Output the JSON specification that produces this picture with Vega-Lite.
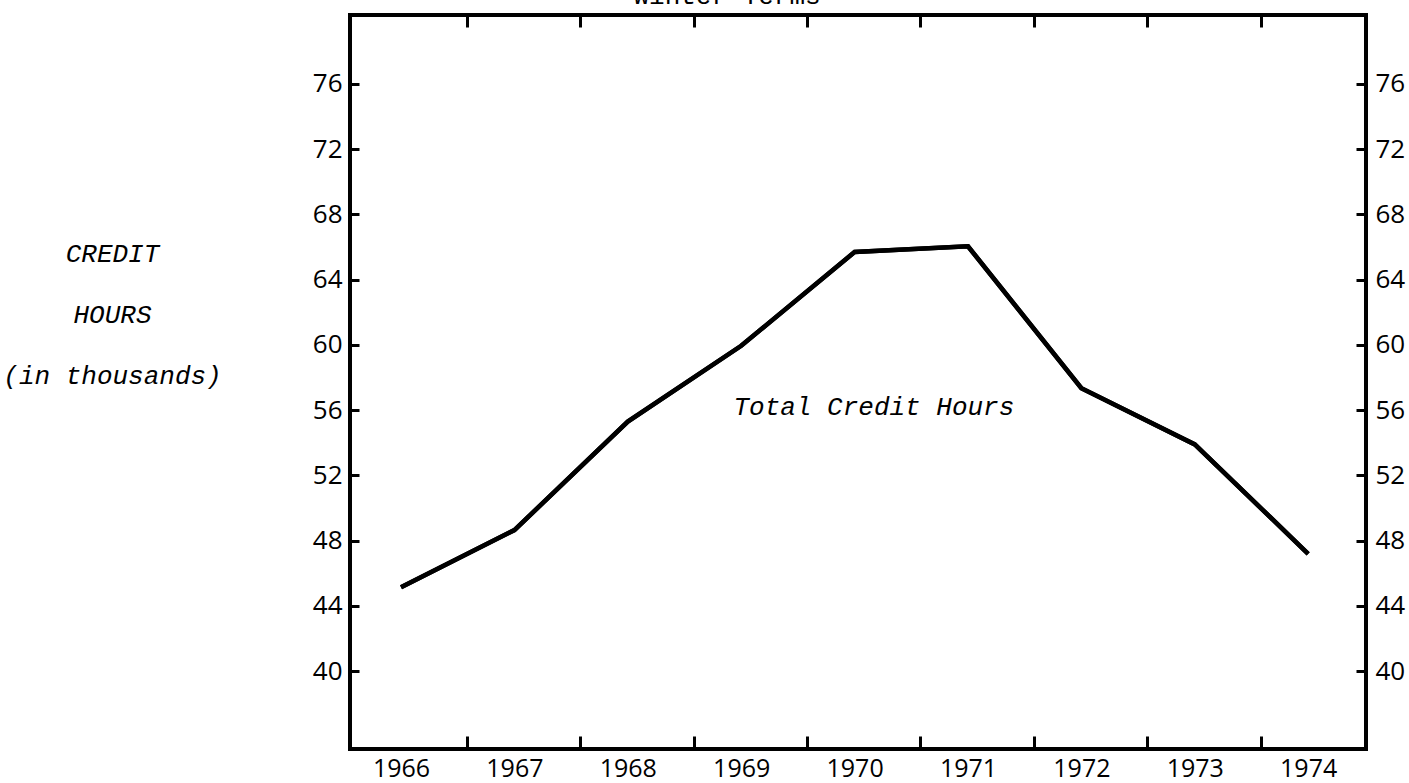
{
  "$schema": "https://vega.github.io/schema/vega-lite/v6.json",
  "width": 1016,
  "height": 734,
  "autosize": "none",
  "padding": {"left": 350, "top": 15, "right": 43, "bottom": 34},
  "background": "white",
  "config": {
    "view": {"stroke": "black", "strokeWidth": 4},
    "axis": {
      "domain": false,
      "grid": false,
      "labelFont": "Open Sans",
      "labelFontSize": 26,
      "labelColor": "black",
      "tickColor": "black",
      "tickWidth": 3
    }
  },
  "datasets": {
    "hours": [
      {"year": 1966, "value": 45.15},
      {"year": 1967, "value": 48.65},
      {"year": 1968, "value": 55.3},
      {"year": 1969, "value": 59.95},
      {"year": 1970, "value": 65.7},
      {"year": 1971, "value": 66.05},
      {"year": 1972, "value": 57.35},
      {"year": 1973, "value": 53.9},
      {"year": 1974, "value": 47.2}
    ],
    "note": [
      {"year": 1970.17, "value": 56.2, "label": "Total Credit Hours"}
    ],
    "heading": [
      {"year": 1968.875, "value": 80.9, "label": "Winter Terms"}
    ]
  },
  "resolve": {"axis": {"x": "independent", "y": "independent"}},
  "layer": [
    {
      "data": {"name": "hours"},
      "mark": {"type": "line", "color": "black", "strokeWidth": 4.5, "strokeJoin": "miter"},
      "encoding": {
        "x": {
          "field": "year", "type": "quantitative",
          "scale": {"domain": [1965.55, 1974.51], "nice": false, "zero": false},
          "axis": {
            "orient": "bottom",
            "values": [1966, 1967, 1968, 1969, 1970, 1971, 1972, 1973, 1974],
            "format": "d",
            "ticks": false,
            "labelPadding": 7,
            "labelFontSize": 25,
            "labelFlush": false,
            "labelOverlap": false,
            "title": null
          }
        },
        "y": {
          "field": "value", "type": "quantitative",
          "scale": {"domain": [35.23, 80.23], "nice": false, "zero": false},
          "axis": {
            "orient": "left",
            "values": [40, 44, 48, 52, 56, 60, 64, 68, 72, 76],
            "tickSize": -9,
            "labelPadding": 17,
            "labelFlush": false,
            "labelOverlap": false,
            "title": ["CREDIT", "HOURS", "(in thousands)"],
            "titleFont": "Liberation Mono",
            "titleFontStyle": "italic",
            "titleFontWeight": "normal",
            "titleFontSize": 26,
            "titleColor": "black",
            "titleLineHeight": 61,
            "titleAngle": 0,
            "titleAlign": "center",
            "titleBaseline": "middle",
            "titleX": -238,
            "titleY": 238
          }
        }
      }
    },
    {
      "data": {"name": "note"},
      "mark": {"type": "text", "font": "Liberation Mono", "fontStyle": "italic", "fontSize": 26, "color": "black", "align": "center", "baseline": "middle"},
      "encoding": {
        "x": {
          "field": "year", "type": "quantitative",
          "scale": {"domain": [1965.55, 1974.51], "nice": false, "zero": false},
          "axis": {
            "orient": "bottom",
            "values": [1966.58, 1967.58, 1968.58, 1969.58, 1970.58, 1971.58, 1972.58, 1973.58],
            "labels": false,
            "tickSize": -13,
            "title": null
          }
        },
        "y": {
          "field": "value", "type": "quantitative",
          "scale": {"domain": [35.23, 80.23], "nice": false, "zero": false},
          "axis": {
            "orient": "right",
            "values": [40, 44, 48, 52, 56, 60, 64, 68, 72, 76],
            "tickSize": -10,
            "labelPadding": 19,
            "labelFlush": false,
            "labelOverlap": false,
            "title": null
          }
        },
        "text": {"field": "label", "type": "nominal"}
      }
    },
    {
      "data": {"name": "hours"},
      "mark": {"type": "line", "color": "black", "strokeWidth": 4.5, "strokeJoin": "miter"},
      "encoding": {
        "x": {
          "field": "year", "type": "quantitative",
          "scale": {"domain": [1965.55, 1974.51], "nice": false, "zero": false},
          "axis": {
            "orient": "top",
            "values": [1966.58, 1967.58, 1968.58, 1969.58, 1970.58, 1971.58, 1972.58, 1973.58],
            "labels": false,
            "tickSize": -12,
            "title": null
          }
        },
        "y": {
          "field": "value", "type": "quantitative",
          "scale": {"domain": [35.23, 80.23], "nice": false, "zero": false},
          "axis": null
        }
      }
    },
    {
      "data": {"name": "heading"},
      "mark": {"type": "text", "font": "Liberation Mono", "fontSize": 26, "color": "black", "align": "center", "baseline": "alphabetic"},
      "encoding": {
        "x": {
          "field": "year", "type": "quantitative",
          "scale": {"domain": [1965.55, 1974.51], "nice": false, "zero": false},
          "axis": null
        },
        "y": {
          "field": "value", "type": "quantitative",
          "scale": {"domain": [35.23, 80.23], "nice": false, "zero": false},
          "axis": null
        },
        "text": {"field": "label", "type": "nominal"}
      }
    }
  ]
}
